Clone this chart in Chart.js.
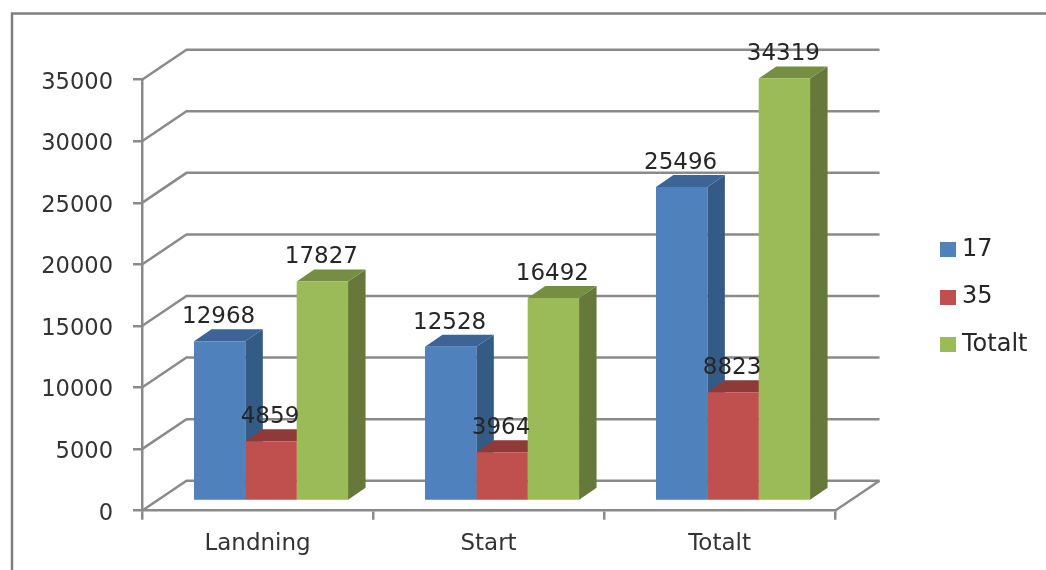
<!DOCTYPE html>
<html>
<head>
<meta charset="utf-8">
<style>
  html, body { margin: 0; padding: 0; background: #fff; }
  canvas { display: block; }
</style>
<script src="https://cdn.jsdelivr.net/npm/chart.js@4/dist/chart.umd.min.js"></script>
</head>
<body>
<canvas id="chart" width="1046" height="570"></canvas>
<script>
const categories = ['Landning', 'Start', 'Totalt'];
const values17 = [12968, 12528, 25496];
const values35 = [4859, 3964, 8823];
const valuesTotalt = [17827, 16492, 34319];
const seriesNames = ['17', '35', 'Totalt'];

// front, top and side face colours per series
const frontColors = ['#4f81bd', '#c0504d', '#9bbb59'];
const topColors = ['#3c6496', '#8f3a38', '#758e42'];
const sideColors = ['#345a86', '#843533', '#66783a'];

const FONT = '"DejaVu Sans"';
const GRID = '#8a8a8a';

// depth of the box walls and of the bars, plus where the bars stand on the floor
const WALL = { dx: 44.5, dy: -30 };
const BAR_SHIFT = { dx: 13.5, dy: -9.7 };
const BAR_DEPTH = { dx: 17.5, dy: -12 };

function fillPoly(ctx, color, pts) {
  ctx.fillStyle = color;
  ctx.beginPath();
  pts.forEach((p, i) => i ? ctx.lineTo(p[0], p[1]) : ctx.moveTo(p[0], p[1]));
  ctx.closePath();
  ctx.fill();
}

// legend swatches: small bitmaps let the label sit closer than a regular legend box
function swatch(color) {
  const c = document.createElement('canvas');
  c.width = 16;
  c.height = 15;
  const g = c.getContext('2d');
  g.fillStyle = color;
  g.fillRect(0, 0, 16, 15);
  return c;
}
const swatches = frontColors.map(swatch);

const box3d = {
  id: 'box3d',
  beforeDraw(chart) {
    // panel frame: only the left and top edges are present
    const ctx = chart.ctx;
    ctx.save();
    ctx.strokeStyle = '#808080';
    ctx.lineWidth = 2.5;
    ctx.beginPath();
    ctx.moveTo(12, 570);
    ctx.lineTo(12, 13.5);
    ctx.lineTo(1046, 13.5);
    ctx.stroke();
    ctx.restore();
  },
  beforeDatasetsDraw(chart) {
    const { ctx, chartArea: a, scales: { y } } = chart;
    ctx.save();
    // receding gridlines on the side wall and the back wall
    ctx.strokeStyle = GRID;
    ctx.lineWidth = 2.5;
    y.ticks.forEach(t => {
      const py = y.getPixelForValue(t.value);
      ctx.beginPath();
      ctx.moveTo(a.left, py);
      ctx.lineTo(a.left + WALL.dx, py + WALL.dy);
      ctx.lineTo(a.right + WALL.dx, py + WALL.dy);
      ctx.stroke();
    });
    // right edge of the floor
    ctx.beginPath();
    ctx.moveTo(a.right, a.bottom);
    ctx.lineTo(a.right + WALL.dx, a.bottom + WALL.dy);
    ctx.stroke();

    // top and side faces, left to right so nearer series cover the earlier ones
    chart.data.datasets.forEach((ds, di) => {
      chart.getDatasetMeta(di).data.forEach(bar => {
        const p = bar.getProps(['x', 'y', 'base', 'width'], true);
        const l = p.x - p.width / 2 + BAR_SHIFT.dx;
        const r = p.x + p.width / 2 + BAR_SHIFT.dx;
        const t = p.y + BAR_SHIFT.dy;
        const b = p.base + BAR_SHIFT.dy;
        const d = BAR_DEPTH;
        fillPoly(ctx, sideColors[di], [[r, t], [r + d.dx, t + d.dy], [r + d.dx, b + d.dy], [r, b]]);
        fillPoly(ctx, topColors[di], [[l, t], [l + d.dx, t + d.dy], [r + d.dx, t + d.dy], [r, t]]);
      });
    });
    ctx.restore();
  },
  beforeDatasetDraw(chart) {
    chart.ctx.save();
    chart.ctx.translate(BAR_SHIFT.dx, BAR_SHIFT.dy);
  },
  afterDatasetDraw(chart) {
    chart.ctx.restore();
  },
  afterDatasetsDraw(chart) {
    // value labels sit above each bar's top face
    const ctx = chart.ctx;
    ctx.save();
    ctx.font = '23px ' + FONT;
    ctx.fillStyle = '#262626';
    ctx.textAlign = 'center';
    ctx.textBaseline = 'alphabetic';
    chart.data.datasets.forEach((ds, di) => {
      chart.getDatasetMeta(di).data.forEach((bar, i) => {
        const p = bar.getProps(['x', 'y'], true);
        ctx.fillText(String(ds.data[i]), p.x + BAR_SHIFT.dx - 1, p.y + BAR_SHIFT.dy - 18);
      });
    });
    ctx.restore();
  },
  afterLayout(chart) {
    // legend column sits to the right of the box
    const lg = chart.legend;
    const w = lg.right - lg.left, h = lg.bottom - lg.top;
    lg.left = 922.5; lg.right = 922.5 + w;
    lg.top = 214; lg.bottom = 214 + h;
  }
};

new Chart(document.getElementById('chart'), {
  type: 'bar',
  data: {
    labels: categories,
    datasets: [
      { label: seriesNames[0], data: values17, backgroundColor: frontColors[0], clip: false },
      { label: seriesNames[1], data: values35, backgroundColor: frontColors[1], clip: false },
      { label: seriesNames[2], data: valuesTotalt, backgroundColor: frontColors[2], clip: false }
    ]
  },
  options: {
    responsive: false,
    animation: false,
    events: [],
    layout: { padding: { left: 0, top: 79.7, right: 96, bottom: 0 } },
    datasets: { bar: { categoryPercentage: 0.667, barPercentage: 1, borderWidth: 0 } },
    plugins: {
      tooltip: { enabled: false },
      title: { display: false },
      legend: {
        position: 'right',
        align: 'start',
        labels: {
          usePointStyle: true,
          pointStyleWidth: 4,
          boxHeight: 16,
          padding: 23.5,
          color: '#262626',
          font: { family: FONT, size: 24 },
          generateLabels(chart) {
            return Chart.defaults.plugins.legend.labels.generateLabels(chart).map(item => {
              item.pointStyle = swatches[item.datasetIndex];
              return item;
            });
          }
        }
      }
    },
    scales: {
      x: {
        afterFit(s) { s.height = 570 - 510.7; },
        grid: { drawOnChartArea: false, color: GRID, lineWidth: 2.5, tickLength: 9, offset: true },
        border: { color: GRID, width: 2.5 },
        ticks: { color: '#333333', font: { family: FONT, size: 23 }, padding: 11, maxRotation: 0 }
      },
      y: {
        min: 0,
        max: 35000,
        afterFit(s) { s.width = 142; },
        grid: { drawOnChartArea: false, color: GRID, lineWidth: 2.5, tickLength: 9 },
        border: { color: GRID, width: 2.5 },
        ticks: {
          stepSize: 5000,
          color: '#333333',
          font: { family: FONT, size: 22.6 },
          padding: 20,
          labelOffset: 3,
          callback: v => String(v)
        }
      }
    }
  },
  plugins: [box3d]
});
</script>
</body>
</html>
